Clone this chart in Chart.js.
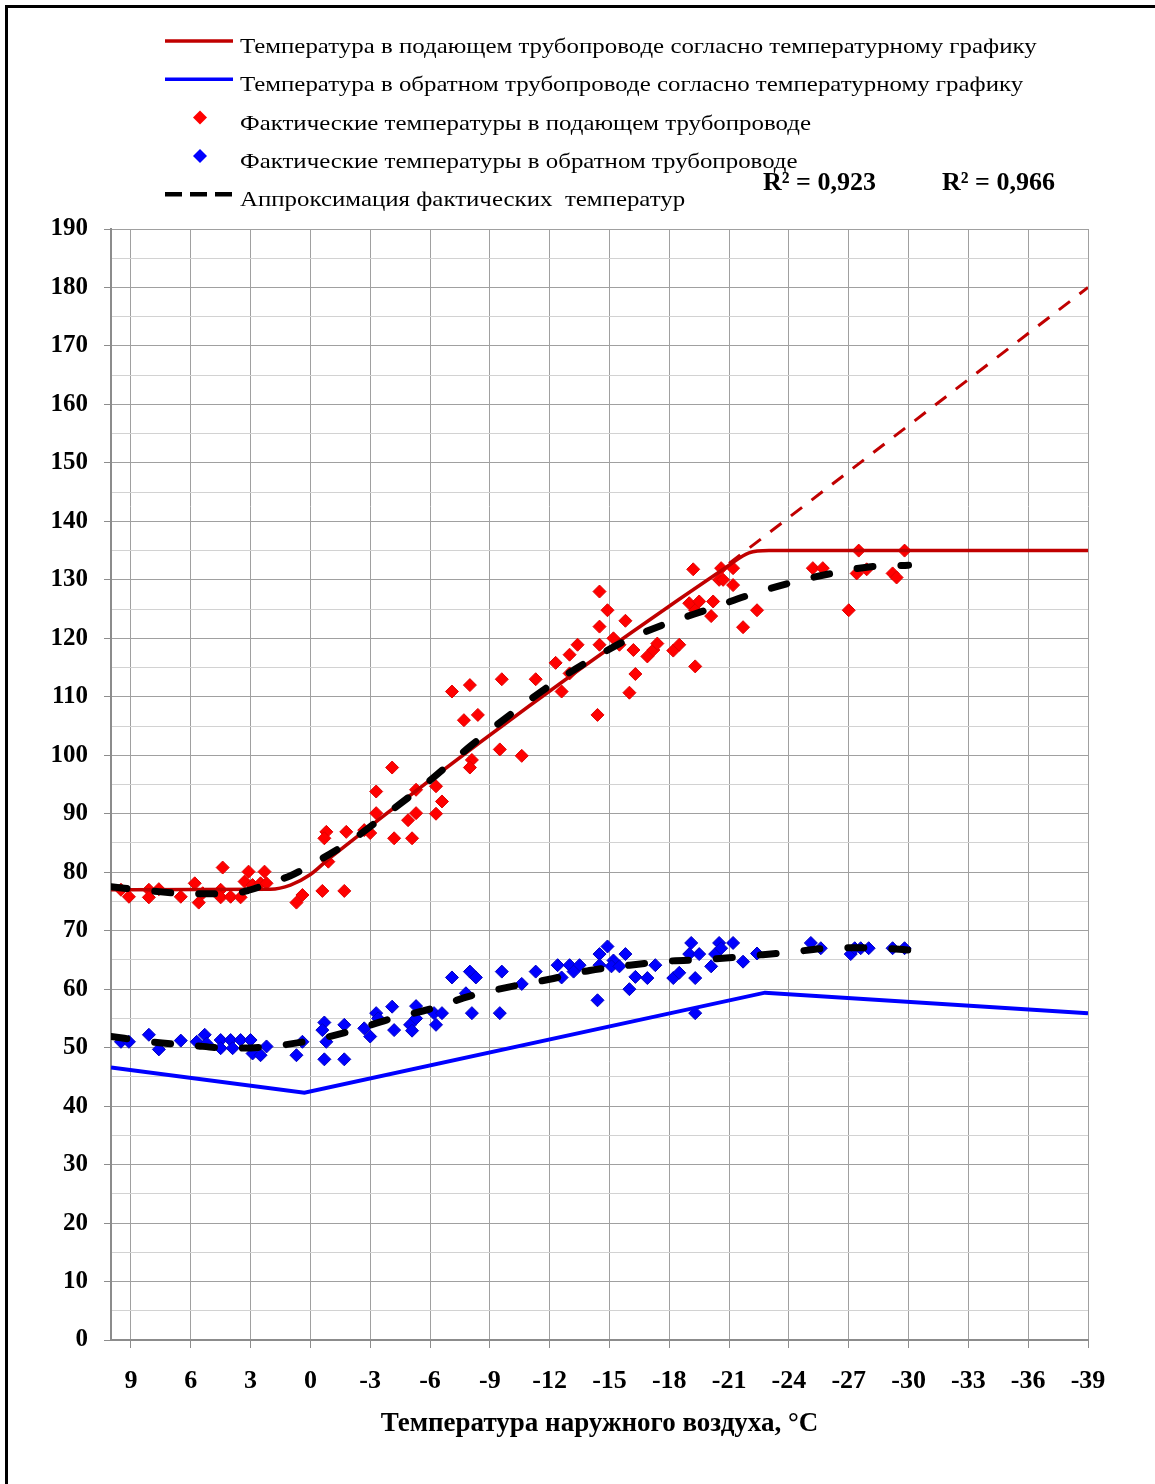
<!DOCTYPE html>
<html lang="ru">
<head>
<meta charset="utf-8">
<title>Температурный график</title>
<script src="https://cdn.jsdelivr.net/npm/chart.js@4.4.1/dist/chart.umd.min.js"></script>
<style>
  html, body { margin: 0; padding: 0; background: #fff; overflow: hidden; }
  #wrap { position: relative; width: 1155px; height: 1484px; }
  #marco { position: absolute; left: 5px; top: 5px; width: 1300px; height: 1600px;
           border-left: 3px solid #000; border-top: 3px solid #000; }
  canvas { position: absolute; left: 0; top: 0; }
</style>
</head>
<body>
<div id="wrap">
  <div id="marco"></div>
  <canvas id="grafico" width="1155" height="1484"></canvas>
</div>
<script>
const SERIF = "'Liberation Serif', 'Times New Roman', serif";

// ЭТИКЕТКИ ОСИ X
const xTicks = [9, 6, 3, 0, -3, -6, -9, -12, -15, -18, -21, -24, -27, -30, -33, -36, -39];

// ТЕМПЕРАТУРНЫЙ ГРАФИК (подача)
const grafPodX = [10, 2, 1, 0, -1, -21, -22, -23, -39];
const grafPodY = [77, 77.1, 77.8, 79.6, 82.5, 132.5, 134.6, 135, 135];
// продолжение графика без срезки
const grafPodExtX = [-21, -39];
const grafPodExtY = [132.8, 180];
// обратка
const grafObrX = [10, 0.3, -22.8, -39];
const grafObrY = [46.6, 42.3, 59.4, 55.9];

// ФАКТИЧЕСКИЕ ЗАМЕРЫ (подача)
const faktPodX = [9.5, 9.1, 8.1, 8.1, 7.6, 6.5, 5.8, 5.6, 5.4, 4.4, 4.5, 4.5, 4.0, 3.5, 3.1, 3.3, 2.9, 2.3, 2.5, 2.2, 0.7, 0.4, -0.6, -1.7,
  -0.8, -0.7, -0.9, -1.8, -2.7, -3.0, -3.3, -3.3, -4.1, -4.2, -4.9, -5.3, -5.1, -5.3, -6.3, -6.6, -6.3, -7.1, -7.7, -8.0, -8.4, -8.1, -8.0, -9.6, -9.5, -10.6, -11.3, -12.3, -12.6, -13.0, -13.0,
  -13.4, -14.5, -14.9, -14.5, -14.5, -14.4, -15.2, -15.5, -15.8, -16.2, -16.3, -16.0, -16.9, -17.2, -17.4, -18.2, -18.5, -19.2, -19.0, -19.3,
  -19.5, -19.3, -20.1, -20.2, -20.5, -20.7, -20.6, -21.2, -21.2, -21.7, -22.4, -25.2, -25.7, -27.0, -27.5, -27.4, -27.9, -29.2, -29.4, -29.8];
const faktPodY = [77.0, 75.8, 77.0, 75.7, 77.1, 75.8, 78.1, 74.8, 76.4, 80.8, 77.0, 75.7, 75.8, 75.7, 80.1, 78.4, 77.8, 80.1, 78.1, 78.1, 74.8, 76.1, 76.8, 76.8,
  86.9, 85.8, 81.8, 86.9, 87.2, 86.7, 93.8, 90.1, 97.9, 85.8, 88.9, 90.1, 85.8, 94.1, 94.7, 92.1, 90.0, 110.9, 106.0, 112.0, 106.9, 99.2, 97.9, 113.0, 101.0, 99.9, 113.0, 115.8, 110.9, 117.2, 114.0,
  118.9, 128.0, 124.8, 122.0, 118.9, 106.9, 120.0, 118.9, 123.0, 118.0, 113.9, 110.7, 116.9, 118.0, 119.1, 117.9, 118.9, 131.8, 126.0, 124.8,
  126.3, 115.2, 123.8, 126.3, 130.0, 130.0, 132.0, 132.0, 129.1, 121.9, 124.8, 132.0, 132.0, 124.8, 135.0, 131.1, 131.8, 131.1, 130.4, 135.0];

// ФАКТИЧЕСКИЕ ЗАМЕРЫ (обратка)
const faktObrX = [9.5, 9.1, 8.1, 7.6, 6.5, 5.7, 5.3, 5.2, 4.5, 4.5, 4.0, 3.9, 3.5, 3.0, 2.9, 2.5, 2.2, 0.7, 0.4, -0.7, -0.6, -0.8, -0.7, -1.7, -1.7, -2.7, -3.0, -3.3, -4.1, -4.2,
  -3.4, -5.0, -5.1, -5.3, -5.3, -6.3, -6.2, -6.6, -7.1, -7.8, -8.0, -8.3, -8.1, -9.6, -9.5, -10.6, -11.3, -12.4, -12.6, -13.0, -13.5, -13.2, -14.4, -14.5, -14.9, -14.5, -15.2, -15.1, -15.8, -15.5, -16.0, -16.3, -16.9, -17.3,
  -18.2, -18.5, -19.1, -19.0, -19.5, -19.3, -19.3, -20.1, -20.3, -20.5, -20.6, -21.2, -21.7, -22.4, -25.1, -25.6, -27.1, -27.3, -27.6, -28.0, -29.2, -29.8];
const faktObrY = [51.0, 51.0, 52.2, 49.7, 51.2, 51.0, 52.2, 50.7, 51.3, 49.9, 51.3, 49.9, 51.3, 51.3, 49.0, 48.7, 50.2, 48.7, 51.0, 54.3, 53.0, 51.0, 48.0, 53.9, 48.0, 53.3, 51.9, 55.9, 57.0, 53.0,
  55.0, 53.9, 52.9, 57.1, 55.0, 53.9, 55.9, 55.9, 62.0, 59.3, 63.0, 62.0, 55.9, 63.0, 55.9, 60.9, 63.0, 64.1, 62.0, 64.1, 64.1, 63.0, 58.1, 66.0, 67.3, 64.1, 64.9, 63.9, 66.0, 63.9, 60.0, 62.1, 61.9, 64.1,
  61.9, 62.8, 67.9, 66.0, 66.0, 61.9, 55.9, 63.9, 66.0, 67.9, 67.0, 67.9, 64.7, 66.1, 67.9, 67.0, 66.0, 67.0, 67.0, 67.0, 67.0, 67.0];

// АППРОКСИМАЦИЯ
const approxPodX = [10, 8, 6, 4, 3, 2, 1, 0, -2, -4, -6, -8, -10, -12, -14, -16, -18, -20, -22, -24, -26, -28, -30];
const approxPodY = [77.5, 76.8, 76.3, 76.3, 77.0, 78.2, 79.4, 81.2, 85.3, 90.4, 95.7, 101.5, 106.9, 111.9, 116.2, 119.9, 122.7, 125.0, 127.4, 129.4, 131.0, 132.2, 132.5];
const approxObrX = [10, 8, 6, 4, 2, 0, -2, -4, -6, -8, -10, -12, -14, -16, -18, -20, -22, -24, -26, -28, -30];
const approxObrY = [51.9, 51.0, 50.4, 49.9, 50.2, 51.2, 52.8, 54.9, 56.6, 58.8, 60.4, 61.7, 63.2, 64.1, 64.8, 65.1, 65.7, 66.3, 67.0, 67.1, 66.7];
const r2Pod = 'R² = 0,923';
const r2Obr = 'R² = 0,966';

const puntos = (xs, ys) => xs.map((x, i) => ({ x: x, y: ys[i] }));

// LEYENDA PROPIA
const leyenda = {
    id: 'leyenda',
    afterDraw(chart) {
        const ctx = chart.ctx;
        const items = chart.data.datasets.filter(d => d.label);
        ctx.save();
        items.forEach((d, i) => {
            const y = 41 + i * 38.3;
            if (d.showLine) {
                ctx.strokeStyle = d.borderColor;
                ctx.lineWidth = d.borderDash ? 4.5 : 3.5;
                ctx.setLineDash(d.borderDash ? [17, 8] : []);
                ctx.lineCap = 'butt';
                ctx.beginPath();
                ctx.moveTo(165, y);
                ctx.lineTo(233, y);
                ctx.stroke();
                ctx.setLineDash([]);
            } else {
                ctx.fillStyle = d.backgroundColor;
                ctx.beginPath();
                ctx.moveTo(200, y - 7);
                ctx.lineTo(207, y);
                ctx.lineTo(200, y + 7);
                ctx.lineTo(193, y);
                ctx.closePath();
                ctx.fill();
            }
            ctx.save();
            ctx.translate(240, y + 12);
            ctx.scale(1.185, 1);
            ctx.fillStyle = '#000';
            ctx.font = '21px ' + SERIF;
            ctx.textBaseline = 'alphabetic';
            ctx.fillText(d.label, 0, 0);
            ctx.restore();
        });
        ctx.fillStyle = '#000';
        ctx.font = 'bold 26px ' + SERIF;
        ctx.fillText(r2Pod, 763, 190);
        ctx.fillText(r2Obr, 942, 190);
        ctx.restore();
    }
};

const canvasGrafico = document.getElementById('grafico');
new Chart(canvasGrafico, {
    type: 'scatter',
    data: {
        datasets: [
            {
                label: 'Температура в подающем трубопроводе согласно температурному графику',
                data: puntos(grafPodX, grafPodY),
                showLine: true,
                borderColor: '#C00000',
                borderWidth: 3.5,
                pointRadius: 0,
                cubicInterpolationMode: 'monotone',
                order: 1
            },
            {
                label: 'Температура в обратном трубопроводе согласно температурному графику',
                data: puntos(grafObrX, grafObrY),
                showLine: true,
                borderColor: '#0000FF',
                borderWidth: 4,
                pointRadius: 0,
                order: 1
            },
            {
                label: 'Фактические температуры в подающем трубопроводе',
                data: puntos(faktPodX, faktPodY),
                pointStyle: 'rectRot',
                pointRadius: 6.5,
                backgroundColor: '#FF0000',
                borderColor: '#E00000',
                borderWidth: 1,
                order: 2
            },
            {
                label: 'Фактические температуры в обратном трубопроводе',
                data: puntos(faktObrX, faktObrY),
                pointStyle: 'rectRot',
                pointRadius: 6.5,
                backgroundColor: '#0000FF',
                borderColor: '#0000C0',
                borderWidth: 1,
                order: 2
            },
            {
                label: 'Аппроксимация фактических  температур',
                data: puntos(approxPodX, approxPodY),
                showLine: true,
                borderColor: '#000',
                borderWidth: 7,
                borderDash: [16, 28],
                borderCapStyle: 'round',
                pointRadius: 0,
                cubicInterpolationMode: 'monotone',
                order: 0
            },
            {
                data: puntos(approxObrX, approxObrY),
                showLine: true,
                borderColor: '#000',
                borderWidth: 7,
                borderDash: [16, 28],
                borderCapStyle: 'round',
                pointRadius: 0,
                cubicInterpolationMode: 'monotone',
                order: 0
            },
            {
                data: puntos(grafPodExtX, grafPodExtY),
                showLine: true,
                borderColor: '#C00000',
                borderWidth: 3,
                borderDash: [14, 12],
                pointRadius: 0,
                order: 1
            }
        ]
    },
    options: {
        responsive: false,
        animation: false,
        layout: { padding: { top: 229, right: 67, bottom: 40, left: 0 } },
        plugins: {
            legend: { display: false },
            tooltip: { enabled: false }
        },
        scales: {
            x: {
                type: 'linear',
                reverse: true,
                min: -39,
                max: 10,
                afterBuildTicks: (s) => { s.ticks = xTicks.map(v => ({ value: v })); },
                afterFit: (s) => { s.height = 104; },
                grid: { color: '#a0a0a0', tickLength: 8, tickColor: '#8c8c8c' },
                border: { color: '#8c8c8c', width: 2 },
                ticks: {
                    autoSkip: false, maxRotation: 0, padding: 18, color: '#000',
                    font: { family: SERIF, size: 26, weight: 'bold' }
                },
                title: {
                    display: true,
                    text: 'Температура наружного воздуха, °C',
                    color: '#000',
                    font: { family: SERIF, size: 27, weight: 'bold' },
                    padding: { top: 0, bottom: 4 }
                }
            },
            y: {
                min: 0,
                max: 190,
                afterFit: (s) => { s.width = 111; },
                grid: {
                    color: (c) => (c.tick && c.tick.value % 10 === 0) ? '#a0a0a0' : '#d2d2d2',
                    tickLength: 7,
                    tickColor: (c) => (c.tick && c.tick.value % 10 === 0) ? '#8c8c8c' : 'rgba(0,0,0,0)'
                },
                border: { color: '#8c8c8c', width: 2 },
                ticks: {
                    stepSize: 5, autoSkip: false, padding: 16, color: '#000',
                    callback: (v) => v % 10 === 0 ? v : '',
                    font: { family: SERIF, size: 25, weight: 'bold' }
                }
            }
        }
    },
    plugins: [leyenda]
});
</script>
</body>
</html>
